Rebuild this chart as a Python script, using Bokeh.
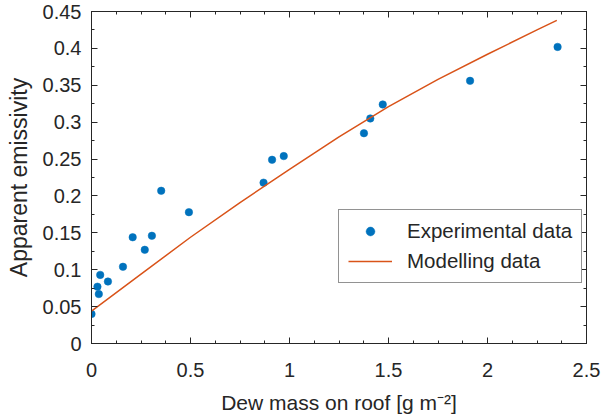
from bokeh.plotting import figure
from bokeh.models import (Range1d, LinearAxis, SingleIntervalTicker, Legend, LegendItem,
                          CustomJSTickFormatter)
from bokeh.embed import file_html
from bokeh.resources import INLINE

# Experimental data
exp_x = [0.0, 0.030, 0.037, 0.044, 0.083, 0.159, 0.208, 0.269, 0.305, 0.352, 0.492,
         0.869, 0.912, 0.971, 1.376, 1.408, 1.471, 1.912, 2.354]
exp_y = [0.040, 0.077, 0.067, 0.093, 0.084, 0.104, 0.144, 0.127, 0.146, 0.207, 0.178,
         0.218, 0.249, 0.254, 0.285, 0.305, 0.324, 0.356, 0.402]

# Modelling data
mod_x = [0.0, 0.25, 0.5, 0.75, 1.0, 1.25, 1.5, 1.75, 2.0, 2.25, 2.35]
mod_y = [0.044, 0.094, 0.144, 0.191, 0.236, 0.280, 0.321, 0.358, 0.392, 0.425, 0.438]

x_ticks_interval = 0.5
y_ticks_interval = 0.05

FONT = "Liberation Sans"
TXT = "#262626"
AX = "#262626"

p = figure(width=602, height=419, output_backend="svg", toolbar_location=None,
           x_range=Range1d(0, 2.5), y_range=Range1d(0, 0.45),
           min_border_left=91, min_border_right=16, min_border_top=11, min_border_bottom=76,
           x_axis_label="Dew mass on roof [g m⁻²]", y_axis_label="Apparent emissivity")
p.grid.visible = False
p.outline_line_color = AX
p.outline_line_width = 1
p.background_fill_color = "white"
p.border_fill_color = "white"

p.xaxis.ticker = SingleIntervalTicker(interval=x_ticks_interval, num_minor_ticks=4)
p.yaxis.ticker = SingleIntervalTicker(interval=y_ticks_interval, num_minor_ticks=2)

def style_axis(ax):
    ax.axis_line_color = AX
    ax.major_tick_line_color = AX
    ax.minor_tick_line_color = AX
    ax.major_tick_in = 6
    ax.major_tick_out = 0
    ax.minor_tick_in = 3
    ax.minor_tick_out = 0
    ax.major_label_text_font = FONT
    ax.major_label_text_font_size = "20px"
    ax.major_label_text_color = TXT
    ax.axis_label_text_font = FONT
    ax.axis_label_text_font_size = "21px"
    ax.axis_label_text_font_style = "normal"
    ax.axis_label_text_color = TXT

style_axis(p.xaxis[0])
style_axis(p.yaxis[0])
p.xaxis[0].major_label_standoff = 19
p.xaxis[0].axis_label_standoff = 11
p.yaxis[0].major_label_standoff = 10
p.yaxis[0].axis_label_standoff = 8
p.yaxis[0].axis_label_text_font_size = "23px"

top = LinearAxis(ticker=SingleIntervalTicker(interval=x_ticks_interval, num_minor_ticks=4),
                 formatter=CustomJSTickFormatter(code="return ''"))
right = LinearAxis(ticker=SingleIntervalTicker(interval=y_ticks_interval, num_minor_ticks=2),
                   formatter=CustomJSTickFormatter(code="return ''"))
for a in (top, right):
    style_axis(a)
    a.major_label_text_font_size = "0px"
    a.major_label_standoff = 0
p.add_layout(top, "above")
p.add_layout(right, "right")

r_exp = p.scatter(exp_x, exp_y, size=7.5, fill_color="#0072BD", line_color="#0072BD",
                  line_width=0.5)
r_mod = p.line(mod_x, mod_y, line_color="#D95319", line_width=1.5)

legend = Legend(items=[LegendItem(label="Experimental data", renderers=[r_exp]),
                       LegendItem(label="Modelling data", renderers=[r_mod])],
                location=(247, 60))
legend.border_line_color = AX
legend.border_line_width = 1
legend.background_fill_color = "white"
legend.background_fill_alpha = 1
legend.label_text_font = FONT
legend.label_text_font_size = "20.5px"
legend.label_text_color = TXT
legend.glyph_width = 44
legend.glyph_height = 22
legend.label_height = 22
legend.label_standoff = 15
legend.spacing = 6
legend.padding = 9
legend.margin = 0
p.add_layout(legend, "center")

open("out.html", "w").write(file_html(p, INLINE))
